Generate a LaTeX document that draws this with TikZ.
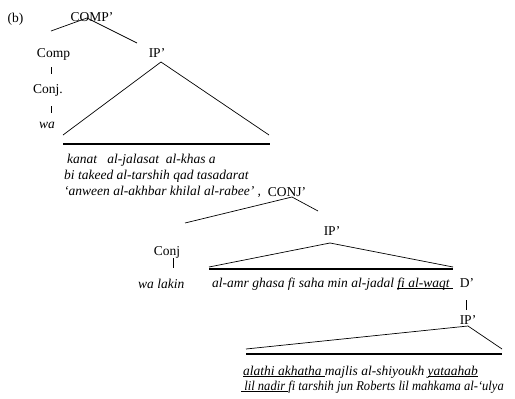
\documentclass[tikz,border=0pt]{standalone}
\usepackage{fontspec}
\setmainfont{Liberation Serif}
\usepackage{graphicx}
\usetikzlibrary{positioning}

\newcommand{\undl}[1]{\underline{\smash{#1}}}

\begin{document}
\begin{tikzpicture}[x=1pt,y=-1pt,
  lbl/.style={anchor=base, inner sep=0pt, font=\fontsize{13.5}{16}\selectfont},
  gloss/.style={anchor=base west, inner sep=0pt, font=\fontsize{13.5}{16}\selectfont\itshape},
  branch/.style={line width=0.7pt},
  basebar/.style={line width=1.1pt}]

\useasboundingbox (0,0) rectangle (515,399);

\node[lbl] (panel) at (15.5,22) {(b)};

% upper tree
\node[lbl] (compbar) at (92,21) {COMP’};
\node[lbl] (comp) at (53.5,57) {Comp};
\node[lbl] (conjA) at (48,93) {Conj.};
\node[lbl, font=\fontsize{13.5}{16}\selectfont\itshape] (wa) at (47,128) {wa};
\node[lbl] (ipA) at (157,57) {IP’};

\coordinate (compbartop) at (87,18);
\coordinate (compleg) at (51,31);
\coordinate (ipleg) at (137,43);
\draw[branch] (compleg)--(compbartop)--(ipleg);
\draw[branch] (51,67)--++(0,7);
\draw[branch] (51,106)--++(0,7);

\coordinate (ipAtop) at (161,62);
\draw[branch] (63,135)--(ipAtop)--(269,135);
\draw[basebar] (63,144)--(270,144);

\node[gloss] (glA) at (67,163) {kanat\ \ \ al-jalasat\ \ al-khas a};
\node[gloss] (glB) at (64,179) {bi takeed al-tarshih qad tasadarat};
\node[gloss] (glC) at (64,195) {‘anween al-akhbar khilal al-rabee’ ,};

% lower tree
\node[lbl] (conjbar) at (287,196) {CONJ’};
\coordinate (conjbartop) at (292,197);
\coordinate (conjleg) at (185,223);
\coordinate (ipBleg) at (318,211);
\draw[branch] (conjleg)--(conjbartop)--(ipBleg);

\node[lbl] (conjB) at (167,255) {Conj};
\draw[branch] (173,258)--++(0,10);
\node[gloss] (walakin) at (138,288) {wa lakin};

\node[lbl] (ipB) at (332,235) {IP’};
\coordinate (ipBtop) at (330,243);
\draw[branch] (209,267)--(ipBtop)--(453,267);
\draw[basebar] (209,269)--(453,269);
\node[gloss] (glD) at (212,287) {al-amr ghasa fi saha min al-jadal \undl{fi al-waqt\ }};

\node[lbl] (dbar) at (467,287) {D’};
\draw[branch] (466,300)--++(0,10);
\node[lbl] (ipC) at (468,324) {IP’};

\coordinate (ipCtop) at (468,326);
\draw[branch] (246,349)--(ipCtop)--(502,349);
\draw[basebar] (246,354)--(502,354);

\node[gloss] (glE) at (243,375) {\undl{alathi akhatha\ }majlis al-shiyoukh \undl{yataahab}};
\node[gloss] (glF) at (241,390) {\scalebox{0.93}[1]{\undl{\ lil nadir\ }fi tarshih jun Roberts lil mahkama al-‘ulya}};

\end{tikzpicture}
\end{document}
